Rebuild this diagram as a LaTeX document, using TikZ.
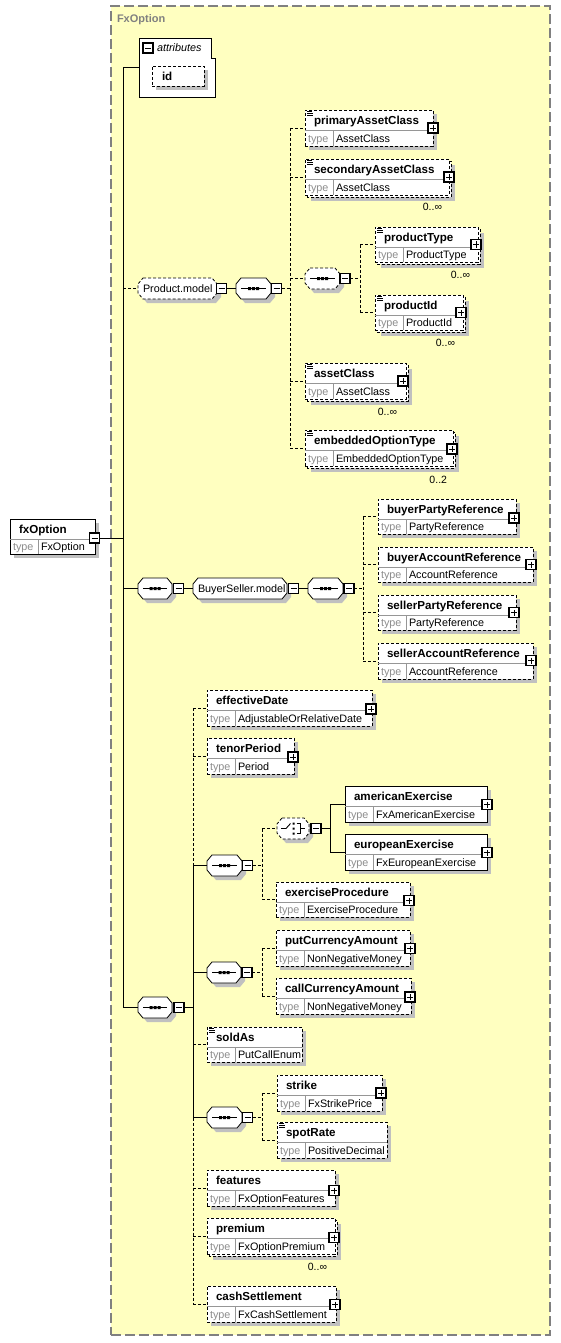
\documentclass[tikz,border=0pt]{standalone}
\usepackage{fontspec}
\setmainfont{Liberation Sans}
\usetikzlibrary{fit}
\pgfdeclarelayer{framelayer}
\pgfdeclarelayer{connlayer}
\pgfsetlayers{framelayer,connlayer,main}
\definecolor{bgyellow}{RGB}{255,255,192}
\definecolor{shadowc}{RGB}{192,192,192}
\definecolor{framegray}{RGB}{128,128,128}
\definecolor{typegray}{RGB}{140,140,140}
\definecolor{divgray}{RGB}{150,150,150}
\tikzset{
  conn/.style={line width=0.9bp, black},
  opt/.style={dash pattern=on 3bp off 2bp},
  boxline/.style={line width=0.8bp},
  namefont/.style={font=\fontsize{11.6bp}{13bp}\selectfont\bfseries},
  typefont/.style={font=\fontsize{10.8bp}{12bp}\selectfont},
  occfont/.style={font=\fontsize{10.5bp}{12bp}\selectfont},
  plusbox/.style={draw, fill=white, line width=1.1bp, minimum size=10bp, inner sep=0pt,
    path picture={\draw[line width=0.8bp] ([xshift=2bp]path picture bounding box.west) -- ([xshift=-2bp]path picture bounding box.east)
      ([yshift=-2bp]path picture bounding box.north) -- ([yshift=2bp]path picture bounding box.south);}},
  minusbox/.style={draw, fill=white, line width=1.1bp, minimum size=10bp, inner sep=0pt,
    path picture={\draw[line width=0.8bp] ([xshift=2bp]path picture bounding box.west) -- ([xshift=-2bp]path picture bounding box.east);}}
}
% element box core: #1 style, #2 name, #3 x0, #4 y0, #5 x1, #6 y1, #7 label, #8 type
\newcommand\elcore[8]{%
  \node[fit={(#3,#4) (#5,#6)}, draw, fill=white, boxline, #1] (#2) {};
  \draw[divgray, line width=0.6bp] (#3,#4+20) -- (#5,#4+20) (#3+28,#4+20) -- (#3+28,#6);
  \node[namefont, anchor=base west] (#2-n) at (#3+9,#4+14.5) {#7};
  \node[typefont, text=typegray, anchor=base west] (#2-k) at (#3+3,#6-3.5) {type};
  \node[typefont, anchor=base west] (#2-t) at (#3+31,#6-3.5) {#8};
}
\newcommand\elbox[8]{%
  \fill[shadowc] (#3+4,#4+4) rectangle (#5+4,#6+4);
  \elcore{#1}{#2}{#3}{#4}{#5}{#6}{#7}{#8}}
\newcommand\elboxm[8]{%
  \fill[shadowc] (#3+6,#4+6) rectangle (#5+6,#6+6);
  \draw[fill=white, boxline, opt] (#3+2,#4+2) rectangle (#5+2,#6+2);
  \elcore{#1}{#2}{#3}{#4}{#5}{#6}{#7}{#8}}
\newcommand\docicon[2]{%
  \draw[line width=0.7bp] (#1+2,#2+1.5) -- (#1+7,#2+1.5) (#1+2,#2+3.5) -- (#1+8,#2+3.5) (#1+2,#2+5.5) -- (#1+8,#2+5.5);}
% group shape: #1 style, #2 name, #3 x0, #4 y0, #5 x1, #6 y1
\newcommand\grpshape[6]{%
  \fill[shadowc] (#3+9,#4+4) -- (#5-1,#4+4) -- (#5+4,#4+10) -- (#5+4,#6-2) -- (#5-1,#6+4) -- (#3+9,#6+4) -- (#3+4,#6-2) -- (#3+4,#4+10) -- cycle;
  \draw[boxline, fill=white, #1] (#3+5,#4) -- (#5-5,#4) -- (#5,#4+6) -- (#5,#6-6) -- (#5-5,#6) -- (#3+5,#6) -- (#3,#6-6) -- (#3,#4+6) -- cycle;
  \node[fit={(#3,#4) (#5,#6)}] (#2) {};}
\newcommand\seqsym[1]{%
  \draw[line width=1bp] ([xshift=5bp]#1.west) -- ([xshift=-5bp]#1.east);
  \fill ([xshift=-5.5bp,yshift=-1.5bp]#1.center) rectangle ([xshift=-2.5bp,yshift=1.5bp]#1.center)
        ([xshift=-1.5bp,yshift=-1.5bp]#1.center) rectangle ([xshift=1.5bp,yshift=1.5bp]#1.center)
        ([xshift=2.5bp,yshift=-1.5bp]#1.center) rectangle ([xshift=5.5bp,yshift=1.5bp]#1.center);}
\begin{document}
\begin{tikzpicture}[x=1bp,y=-1bp, every node/.style={inner sep=0pt,outer sep=0pt}]
\useasboundingbox (0,0) rectangle (561,1343);
\begin{pgfonlayer}{framelayer}
\node[fit={(111,6) (550,1335)}, draw=framegray, fill=bgyellow, line width=1.1bp, dash pattern=on 10bp off 4bp] (frame) {};
\end{pgfonlayer}
\node[font=\fontsize{11bp}{13bp}\selectfont\bfseries, text=framegray, anchor=base west] (frametitle) at (117,23) {FxOption};

% root
\elbox{}{fx}{10}{519}{95}{554}{fxOption}{FxOption}
\node[minusbox] (fx-m) at (94.5,538) {};

% attributes
\draw[boxline, fill=white] (139,38) -- (211,38) -- (211,58) -- (215,58) -- (215,97) -- (139,97) -- cycle;
\node[fit={(139,38) (215,97)}] (attr) {};
\node[minusbox] (attr-m) at (148,48) {};
\node[font=\fontsize{10.8bp}{12bp}\selectfont\itshape, anchor=base west] (attr-t) at (157,52) {attributes};
\fill[shadowc] (156,70) rectangle (208,90);
\node[fit={(152,66) (204,86)}, draw, fill=white, boxline, opt] (idbox) {};
\node[namefont, anchor=base west] (idtxt) at (162,80.5) {id};

% Product.model
\grpshape{opt}{pm}{138}{278}{217}{299}
\node[typefont, anchor=base west] (pm-t) at (143,292.5) {Product.model};
\node[minusbox] (pm-m) at (221.5,288.5) {};
\grpshape{}{pmseq}{236}{278}{271}{299}
\seqsym{pmseq}
\node[minusbox] (pmseq-m) at (276.5,288.5) {};

\elbox{opt}{pac}{305}{110}{433}{146}{primaryAssetClass}{AssetClass}
\docicon{305}{110}
\node[plusbox] (pac-p) at (433,128) {};

\elboxm{opt}{sac}{305}{159}{449}{195}{secondaryAssetClass}{AssetClass}
\docicon{305}{159}
\node[plusbox] (sac-p) at (449,177) {};
\node[occfont, anchor=east] (sac-o) at (442,207) {0..∞};

\grpshape{opt}{pmseq2}{305}{268}{340}{289}
\seqsym{pmseq2}
\node[minusbox] (pmseq2-m) at (345,278.5) {};

\elboxm{opt}{ptype}{375}{227}{478}{262}{productType}{ProductType}
\docicon{375}{227}
\node[plusbox] (ptype-p) at (476,244.5) {};
\node[occfont, anchor=east] (ptype-o) at (470,275) {0..∞};

\elboxm{opt}{pid}{375}{295}{463}{330}{productId}{ProductId}
\docicon{375}{295}
\node[plusbox] (pid-p) at (461,312.5) {};
\node[occfont, anchor=east] (pid-o) at (455,343) {0..∞};

\elboxm{opt}{acls}{305}{363}{406}{399}{assetClass}{AssetClass}
\docicon{305}{363}
\node[plusbox] (acls-p) at (403,381) {};
\node[occfont, anchor=east] (acls-o) at (397,412) {0..∞};

\elboxm{opt}{eot}{305}{430}{453}{466}{embeddedOptionType}{EmbeddedOptionType}
\docicon{305}{430}
\node[plusbox] (eot-p) at (452,449) {};
\node[occfont, anchor=east] (eot-o) at (447,480) {0..2};

% BuyerSeller
\grpshape{}{bsseq}{138}{578}{172}{599}
\seqsym{bsseq}
\node[minusbox] (bsseq-m) at (178.5,588.5) {};
\grpshape{}{bsm}{193}{578}{287}{599}
\node[typefont, anchor=base west] (bsm-t) at (198,592.5) {BuyerSeller.model};
\node[minusbox] (bsm-m) at (293.5,588.5) {};
\grpshape{}{bsseq2}{308}{578}{343}{599}
\seqsym{bsseq2}
\node[minusbox] (bsseq2-m) at (349,588.5) {};

\elbox{opt}{bpr}{378}{499}{516}{534}{buyerPartyReference}{PartyReference}
\node[plusbox] (bpr-p) at (514,518) {};
\elbox{opt}{bacr}{378}{547}{533}{582}{buyerAccountReference}{AccountReference}
\node[plusbox] (bacr-p) at (531,564.5) {};
\elbox{opt}{spr}{378}{595}{516}{630}{sellerPartyReference}{PartyReference}
\node[plusbox] (spr-p) at (514,612.5) {};
\elbox{opt}{sacr}{378}{643}{533}{679}{sellerAccountReference}{AccountReference}
\node[plusbox] (sacr-p) at (531,660.5) {};

% main sequence
\grpshape{}{mseq}{138}{997}{172}{1018}
\seqsym{mseq}
\node[minusbox] (mseq-m) at (179,1007.5) {};

\elbox{opt}{ed}{207}{690}{372}{726}{effectiveDate}{AdjustableOrRelativeDate}
\node[plusbox] (ed-p) at (371,709) {};
\elbox{opt}{tp}{207}{738}{294}{774}{tenorPeriod}{Period}
\node[plusbox] (tp-p) at (293,757) {};

\grpshape{}{exseq}{207}{855}{242}{876}
\seqsym{exseq}
\node[minusbox] (exseq-m) at (247.5,865.5) {};
\grpshape{opt}{exch}{277}{818}{309}{839}
\draw[line width=0.9bp] (281,828.5) -- (286,828.5) -- (290.5,823.5);
\fill (292.5,822.5) rectangle (294.5,824.5) (292.5,827.5) rectangle (294.5,829.5) (292.5,832.5) rectangle (294.5,834.5);
\draw[line width=0.9bp] (296.5,823.5) -- (300.5,823.5) -- (300.5,833.5) -- (296.5,833.5) (300.5,828.5) -- (305,828.5);
\node[minusbox] (exch-m) at (316,828.5) {};

\elbox{}{amex}{345}{786}{487}{822}{americanExercise}{FxAmericanExercise}
\node[plusbox] (amex-p) at (487,804.5) {};
\elbox{}{euex}{345}{834}{487}{870}{europeanExercise}{FxEuropeanExercise}
\node[plusbox] (euex-p) at (487,852.5) {};
\elbox{opt}{exproc}{276}{882}{410}{917}{exerciseProcedure}{ExerciseProcedure}
\node[plusbox] (exproc-p) at (409,900.5) {};

\grpshape{}{pcseq}{207}{962}{241}{983}
\seqsym{pcseq}
\node[minusbox] (pcseq-m) at (247,972.5) {};
\elbox{opt}{pca}{276}{930}{410}{966}{putCurrencyAmount}{NonNegativeMoney}
\node[plusbox] (pca-p) at (410,948.5) {};
\elbox{opt}{cca}{276}{978}{411}{1014}{callCurrencyAmount}{NonNegativeMoney}
\node[plusbox] (cca-p) at (410,997) {};

\elbox{opt}{sold}{207}{1027}{302}{1062}{soldAs}{PutCallEnum}
\docicon{207}{1027}

\grpshape{}{stseq}{207}{1107}{242}{1128}
\seqsym{stseq}
\node[minusbox] (stseq-m) at (247.5,1117.5) {};
\elbox{opt}{strike}{277}{1075}{382}{1111}{strike}{FxStrikePrice}
\node[plusbox] (strike-p) at (381,1093) {};
\elbox{opt}{spot}{277}{1122}{387}{1158}{spotRate}{PositiveDecimal}
\docicon{277}{1122}

\elbox{opt}{feat}{207}{1170}{335}{1206}{features}{FxOptionFeatures}
\node[plusbox] (feat-p) at (334,1190.5) {};
\elboxm{opt}{prem}{207}{1218}{335}{1254}{premium}{FxOptionPremium}
\node[plusbox] (prem-p) at (334,1237.5) {};
\node[occfont, anchor=east] (prem-o) at (327,1267) {0..∞};
\elbox{opt}{cash}{207}{1286}{336}{1322}{cashSettlement}{FxCashSettlement}
\node[plusbox] (cash-p) at (335,1304.5) {};

% connectors
\coordinate (mainbar) at (123,0);
\coordinate (pmbar) at (290,0);
\coordinate (pmbarb) at (360,0);
\coordinate (bsbar) at (363,0);
\coordinate (mbar) at (193,0);
\coordinate (exbar) at (262,0);
\coordinate (exchbar) at (330,0);
\coordinate (pcbar) at (262,0);
\coordinate (stbar) at (262,0);
\begin{pgfonlayer}{connlayer}
\draw[conn] (fx-m.east) -- (fx-m.east -| mainbar);
\draw[conn] (mainbar |- attr.west) -- (mainbar |- mseq.west);
\draw[conn] (mainbar |- attr.west) -- (attr.west);
\draw[conn,opt] (mainbar |- pm.west) -- (pm.west);
\draw[conn] (mainbar |- bsseq.west) -- (bsseq.west);
\draw[conn] (mainbar |- mseq.west) -- (mseq.west);
% product model
\draw[conn] (pm-m.east) -- (pmseq.west);
\draw[conn,opt] (pmseq-m.east) -- (pmseq-m.east -| pmbar);
\draw[conn,opt] (pmbar |- pac.west) -- (pmbar |- eot.west);
\foreach \t in {pac,sac,pmseq2,acls,eot} \draw[conn,opt] (pmbar |- \t.west) -- (\t.west);
\draw[conn,opt] (pmseq2-m.east) -- (pmseq2-m.east -| pmbarb);
\draw[conn,opt] (pmbarb |- ptype.west) -- (pmbarb |- pid.west);
\foreach \t in {ptype,pid} \draw[conn,opt] (pmbarb |- \t.west) -- (\t.west);
% buyer seller
\draw[conn] (bsseq-m.east) -- (bsm.west);
\draw[conn] (bsm-m.east) -- (bsseq2.west);
\draw[conn,opt] (bsseq2-m.east) -- (bsseq2-m.east -| bsbar);
\draw[conn,opt] (bsbar |- bpr.west) -- (bsbar |- sacr.west);
\foreach \t in {bpr,bacr,spr,sacr} \draw[conn,opt] (bsbar |- \t.west) -- (\t.west);
% main sequence
\draw[conn] (mseq-m.east) -- (mseq-m.east -| mbar);
\draw[conn,opt] (mbar |- ed.west) -- (mbar |- exseq.west);
\draw[conn] (mbar |- exseq.west) -- (mbar |- stseq.west);
\draw[conn,opt] (mbar |- stseq.west) -- (mbar |- cash.west);
\foreach \t in {ed,tp,sold,feat,prem,cash} \draw[conn,opt] (mbar |- \t.west) -- (\t.west);
\foreach \t in {exseq,pcseq,stseq} \draw[conn] (mbar |- \t.west) -- (\t.west);
% exercise
\draw[conn,opt] (exseq-m.east) -- (exseq-m.east -| exbar);
\draw[conn,opt] (exbar |- exch.west) -- (exbar |- exproc.west);
\foreach \t in {exch,exproc} \draw[conn,opt] (exbar |- \t.west) -- (\t.west);
\draw[conn] (exch-m.east) -- (exch-m.east -| exchbar);
\draw[conn] (exchbar |- amex.west) -- (exchbar |- euex.west);
\foreach \t in {amex,euex} \draw[conn] (exchbar |- \t.west) -- (\t.west);
% put/call
\draw[conn,opt] (pcseq-m.east) -- (pcseq-m.east -| pcbar);
\draw[conn,opt] (pcbar |- pca.west) -- (pcbar |- cca.west);
\foreach \t in {pca,cca} \draw[conn,opt] (pcbar |- \t.west) -- (\t.west);
% strike/spot
\draw[conn,opt] (stseq-m.east) -- (stseq-m.east -| stbar);
\draw[conn,opt] (stbar |- strike.west) -- (stbar |- spot.west);
\foreach \t in {strike,spot} \draw[conn,opt] (stbar |- \t.west) -- (\t.west);
\end{pgfonlayer}
\end{tikzpicture}
\end{document}
